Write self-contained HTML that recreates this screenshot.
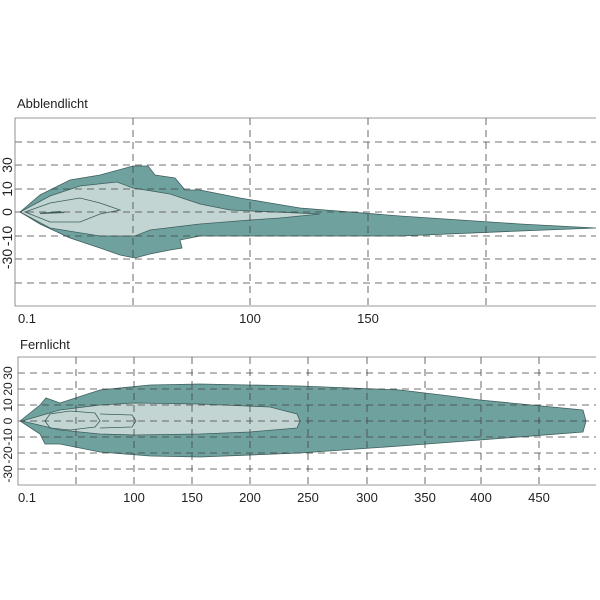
<!DOCTYPE html>
<html><head><meta charset="utf-8"><style>
body{margin:0;background:#fff;}
svg{display:block;font-family:"Liberation Sans",sans-serif;}
</style></head><body>
<svg width="600" height="600" viewBox="0 0 600 600" xmlns="http://www.w3.org/2000/svg">
<rect width="600" height="600" fill="#fff"/>
<text x="17" y="108" font-size="13" fill="#222">Abblendlicht</text>
<path d="M20,212 L40,195 L70,180 L100,175 L133,166 L148,166 L155,175 L175,178 L185,190 L200,190 L240,198 L270,203 L300,208 L400,216 L520,224 L596,228 L520,231 L400,236 L300,236 L240,236 L200,236 L180,240 L182,248 L170,250 L150,254 L135,258 L120,255 L100,248 L70,238 L40,224 Z" fill="#6fa19e" stroke="#3d5f5d" stroke-width="0.8"/>
<path d="M20,212 L50,196 L80,186 L117,182 L133,188 L170,194 L200,204 L230,210 L320,214 L280,218 L250,220 L200,224 L150,230 L135,236 L100,236 L50,228 Z" fill="#c3d5d3" stroke="#3d5f5d" stroke-width="0.8"/>
<path d="M25,212 L50,203 L80,198 L100,203 L120,210 L100,214 L80,222 L50,222 Z" fill="none" stroke="#3d5f5d" stroke-width="0.8"/>
<path d="M40,213 L60,211 L65,213 L40,214 Z" fill="#3d5f5d"/>
<g stroke="#444" stroke-width="0.8" stroke-dasharray="7,5" fill="none">
<path d="M15,142H596M15,165H596M15,189H596M15,212H596M15,236H596M15,259H596M15,283H596"/>
<path d="M133,118V306M250,118V306M368,118V306M486,118V306"/>
</g>
<path d="M596,118H15V306H596" fill="none" stroke="#777" stroke-width="0.8"/>
<g font-size="13" fill="#222" text-anchor="middle">
<text x="27" y="323">0.1</text><text x="250" y="323">100</text><text x="368" y="323">150</text>
</g>
<g font-size="14" fill="#222" text-anchor="middle">
<text transform="translate(12,165) rotate(-90)">30</text>
<text transform="translate(12,189) rotate(-90)">10</text>
<text transform="translate(12,212) rotate(-90)">0</text>
<text transform="translate(12,236) rotate(-90)">-10</text>
<text transform="translate(12,259) rotate(-90)">-30</text>
</g>

<text x="20" y="349" font-size="13" fill="#222">Fernlicht</text>
<path d="M20,421 L40,405 L46,398 L60,403 L100,390 L150,385 L200,384 L300,386 L400,390 L450,396 L480,400 L583,410 L586,421 L583,432 L480,440 L400,446 L300,453 L200,457 L150,456 L100,452 L60,444 L45,444 L40,434 Z" fill="#6fa19e" stroke="#3d5f5d" stroke-width="0.8"/>
<path d="M22,421 L60,410 L100,405 L134,403 L200,404 L270,407 L297,414 L300,421 L297,428 L250,432 L200,434 L134,435 L100,434 L60,430 Z" fill="#c3d5d3" stroke="#3d5f5d" stroke-width="0.8"/>
<path d="M45,421 L50,414 L70,411 L95,413 L100,421 L95,427 L70,430 L50,428 Z" fill="none" stroke="#3d5f5d" stroke-width="0.8"/>
<path d="M100,414 L132,415 L136,421 L132,427 L100,428" fill="none" stroke="#3d5f5d" stroke-width="0.8"/>
<g stroke="#444" stroke-width="0.8" stroke-dasharray="7,5" fill="none">
<path d="M18,373H596M18,389H596M18,405H596M18,421H596M18,437H596M18,453H596M18,469H596"/>
<path d="M76,357V485M134,357V485M192,357V485M250,357V485M308,357V485M367,357V485M425,357V485M481,357V485M539,357V485"/>
</g>
<path d="M596,357H18V485H596" fill="none" stroke="#777" stroke-width="0.8"/>
<g font-size="13" fill="#222" text-anchor="middle">
<text x="27" y="502">0.1</text><text x="134" y="502">100</text><text x="192" y="502">150</text><text x="250" y="502">200</text><text x="308" y="502">250</text><text x="367" y="502">300</text><text x="425" y="502">350</text><text x="481" y="502">400</text><text x="539" y="502">450</text>
</g>
<g font-size="12" fill="#222" text-anchor="middle">
<text transform="translate(12,373) rotate(-90)">30</text>
<text transform="translate(12,389) rotate(-90)">20</text>
<text transform="translate(12,405) rotate(-90)">10</text>
<text transform="translate(12,421) rotate(-90)">0</text>
<text transform="translate(12,437) rotate(-90)">-10</text>
<text transform="translate(12,455) rotate(-90)">-20</text>
<text transform="translate(12,474) rotate(-90)">-30</text>
</g>
</svg>
</body></html>
